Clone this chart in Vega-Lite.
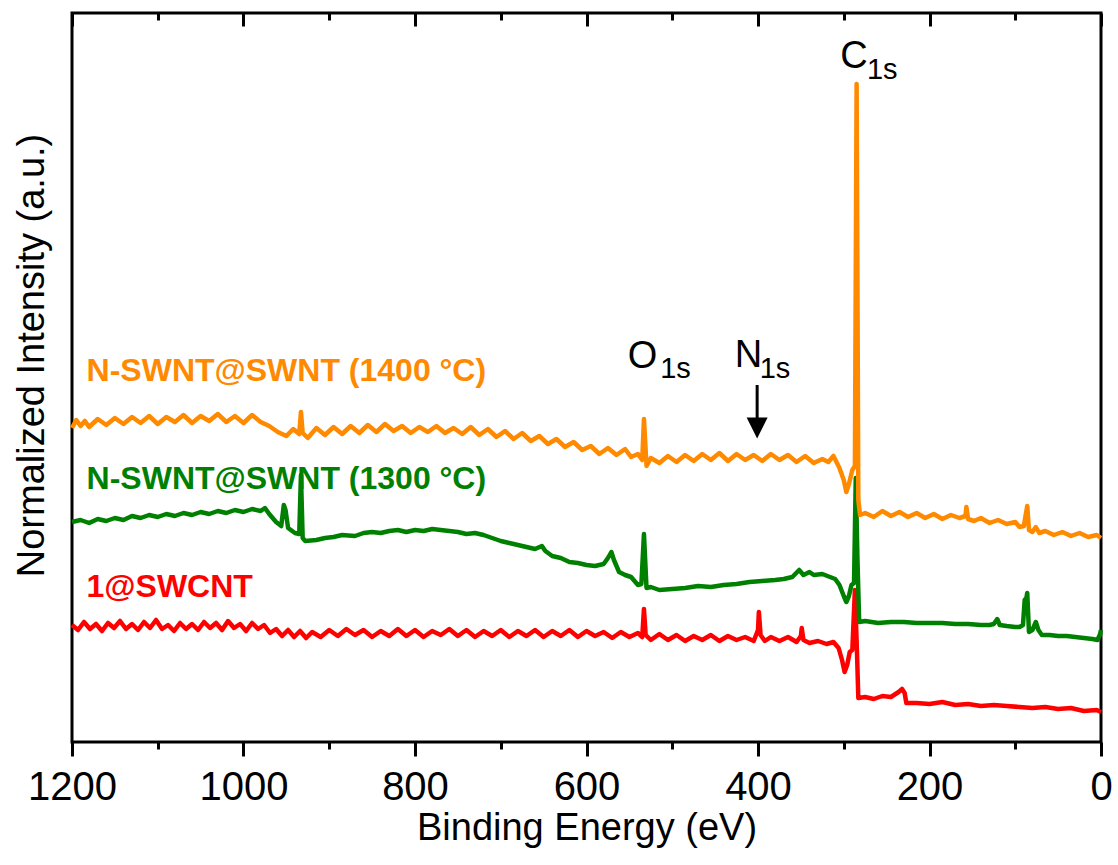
{
  "$schema": "https://vega.github.io/schema/vega-lite/v6.json",
  "width": 1029,
  "height": 729,
  "autosize": {"type": "none"},
  "padding": {"left": 72, "top": 13, "right": 17, "bottom": 123},
  "background": "white",
  "view": {"stroke": "black", "strokeWidth": 3},
  "config": {"font": "Liberation Sans"},
  "datasets": {
    "red": [
      {"series": "1@SWCNT", "energy": 1200, "intensity": 117},
      {"series": "1@SWCNT", "energy": 1193, "intensity": 112},
      {"series": "1@SWCNT", "energy": 1186, "intensity": 120},
      {"series": "1@SWCNT", "energy": 1179, "intensity": 113},
      {"series": "1@SWCNT", "energy": 1172, "intensity": 118},
      {"series": "1@SWCNT", "energy": 1165, "intensity": 111},
      {"series": "1@SWCNT", "energy": 1158, "intensity": 119},
      {"series": "1@SWCNT", "energy": 1151, "intensity": 114},
      {"series": "1@SWCNT", "energy": 1144, "intensity": 121},
      {"series": "1@SWCNT", "energy": 1137, "intensity": 113},
      {"series": "1@SWCNT", "energy": 1130, "intensity": 118},
      {"series": "1@SWCNT", "energy": 1123, "intensity": 112},
      {"series": "1@SWCNT", "energy": 1116, "intensity": 120},
      {"series": "1@SWCNT", "energy": 1109, "intensity": 114},
      {"series": "1@SWCNT", "energy": 1102, "intensity": 122},
      {"series": "1@SWCNT", "energy": 1095, "intensity": 113},
      {"series": "1@SWCNT", "energy": 1088, "intensity": 117},
      {"series": "1@SWCNT", "energy": 1081, "intensity": 111},
      {"series": "1@SWCNT", "energy": 1074, "intensity": 119},
      {"series": "1@SWCNT", "energy": 1067, "intensity": 113},
      {"series": "1@SWCNT", "energy": 1060, "intensity": 118},
      {"series": "1@SWCNT", "energy": 1053, "intensity": 112},
      {"series": "1@SWCNT", "energy": 1046, "intensity": 120},
      {"series": "1@SWCNT", "energy": 1039, "intensity": 114},
      {"series": "1@SWCNT", "energy": 1032, "intensity": 119},
      {"series": "1@SWCNT", "energy": 1025, "intensity": 112},
      {"series": "1@SWCNT", "energy": 1018, "intensity": 121},
      {"series": "1@SWCNT", "energy": 1011, "intensity": 114},
      {"series": "1@SWCNT", "energy": 1004, "intensity": 118},
      {"series": "1@SWCNT", "energy": 997, "intensity": 111},
      {"series": "1@SWCNT", "energy": 990, "intensity": 119},
      {"series": "1@SWCNT", "energy": 983, "intensity": 113},
      {"series": "1@SWCNT", "energy": 976, "intensity": 117},
      {"series": "1@SWCNT", "energy": 969, "intensity": 109},
      {"series": "1@SWCNT", "energy": 962, "intensity": 113},
      {"series": "1@SWCNT", "energy": 955, "intensity": 106},
      {"series": "1@SWCNT", "energy": 948, "intensity": 112},
      {"series": "1@SWCNT", "energy": 941, "intensity": 105},
      {"series": "1@SWCNT", "energy": 934, "intensity": 111},
      {"series": "1@SWCNT", "energy": 927, "intensity": 104},
      {"series": "1@SWCNT", "energy": 920, "intensity": 110},
      {"series": "1@SWCNT", "energy": 910, "intensity": 105},
      {"series": "1@SWCNT", "energy": 900, "intensity": 112},
      {"series": "1@SWCNT", "energy": 890, "intensity": 106},
      {"series": "1@SWCNT", "energy": 880, "intensity": 113},
      {"series": "1@SWCNT", "energy": 870, "intensity": 107},
      {"series": "1@SWCNT", "energy": 860, "intensity": 112},
      {"series": "1@SWCNT", "energy": 850, "intensity": 105},
      {"series": "1@SWCNT", "energy": 840, "intensity": 111},
      {"series": "1@SWCNT", "energy": 830, "intensity": 106},
      {"series": "1@SWCNT", "energy": 820, "intensity": 113},
      {"series": "1@SWCNT", "energy": 810, "intensity": 106},
      {"series": "1@SWCNT", "energy": 800, "intensity": 112},
      {"series": "1@SWCNT", "energy": 790, "intensity": 105},
      {"series": "1@SWCNT", "energy": 780, "intensity": 111},
      {"series": "1@SWCNT", "energy": 770, "intensity": 107},
      {"series": "1@SWCNT", "energy": 760, "intensity": 113},
      {"series": "1@SWCNT", "energy": 750, "intensity": 106},
      {"series": "1@SWCNT", "energy": 740, "intensity": 112},
      {"series": "1@SWCNT", "energy": 730, "intensity": 105},
      {"series": "1@SWCNT", "energy": 720, "intensity": 111},
      {"series": "1@SWCNT", "energy": 710, "intensity": 106},
      {"series": "1@SWCNT", "energy": 700, "intensity": 112},
      {"series": "1@SWCNT", "energy": 690, "intensity": 105},
      {"series": "1@SWCNT", "energy": 680, "intensity": 111},
      {"series": "1@SWCNT", "energy": 670, "intensity": 106},
      {"series": "1@SWCNT", "energy": 660, "intensity": 112},
      {"series": "1@SWCNT", "energy": 650, "intensity": 105},
      {"series": "1@SWCNT", "energy": 640, "intensity": 111},
      {"series": "1@SWCNT", "energy": 630, "intensity": 106},
      {"series": "1@SWCNT", "energy": 620, "intensity": 112},
      {"series": "1@SWCNT", "energy": 610, "intensity": 105},
      {"series": "1@SWCNT", "energy": 600, "intensity": 111},
      {"series": "1@SWCNT", "energy": 590, "intensity": 106},
      {"series": "1@SWCNT", "energy": 580, "intensity": 110},
      {"series": "1@SWCNT", "energy": 570, "intensity": 104},
      {"series": "1@SWCNT", "energy": 560, "intensity": 110},
      {"series": "1@SWCNT", "energy": 550, "intensity": 105},
      {"series": "1@SWCNT", "energy": 540, "intensity": 109},
      {"series": "1@SWCNT", "energy": 535, "intensity": 105},
      {"series": "1@SWCNT", "energy": 533, "intensity": 133},
      {"series": "1@SWCNT", "energy": 531, "intensity": 107},
      {"series": "1@SWCNT", "energy": 525, "intensity": 102},
      {"series": "1@SWCNT", "energy": 515, "intensity": 108},
      {"series": "1@SWCNT", "energy": 505, "intensity": 102},
      {"series": "1@SWCNT", "energy": 495, "intensity": 107},
      {"series": "1@SWCNT", "energy": 485, "intensity": 101},
      {"series": "1@SWCNT", "energy": 475, "intensity": 106},
      {"series": "1@SWCNT", "energy": 465, "intensity": 102},
      {"series": "1@SWCNT", "energy": 455, "intensity": 107},
      {"series": "1@SWCNT", "energy": 445, "intensity": 101},
      {"series": "1@SWCNT", "energy": 435, "intensity": 106},
      {"series": "1@SWCNT", "energy": 425, "intensity": 102},
      {"series": "1@SWCNT", "energy": 415, "intensity": 105},
      {"series": "1@SWCNT", "energy": 405, "intensity": 101},
      {"series": "1@SWCNT", "energy": 400, "intensity": 112},
      {"series": "1@SWCNT", "energy": 399, "intensity": 130},
      {"series": "1@SWCNT", "energy": 397, "intensity": 107},
      {"series": "1@SWCNT", "energy": 392, "intensity": 101},
      {"series": "1@SWCNT", "energy": 385, "intensity": 105},
      {"series": "1@SWCNT", "energy": 375, "intensity": 101},
      {"series": "1@SWCNT", "energy": 365, "intensity": 105},
      {"series": "1@SWCNT", "energy": 355, "intensity": 100},
      {"series": "1@SWCNT", "energy": 350, "intensity": 106},
      {"series": "1@SWCNT", "energy": 349, "intensity": 114},
      {"series": "1@SWCNT", "energy": 347, "intensity": 102},
      {"series": "1@SWCNT", "energy": 340, "intensity": 99},
      {"series": "1@SWCNT", "energy": 330, "intensity": 101},
      {"series": "1@SWCNT", "energy": 320, "intensity": 98},
      {"series": "1@SWCNT", "energy": 312, "intensity": 100},
      {"series": "1@SWCNT", "energy": 306, "intensity": 94},
      {"series": "1@SWCNT", "energy": 302, "intensity": 82},
      {"series": "1@SWCNT", "energy": 299, "intensity": 70},
      {"series": "1@SWCNT", "energy": 296, "intensity": 77},
      {"series": "1@SWCNT", "energy": 293, "intensity": 90},
      {"series": "1@SWCNT", "energy": 290, "intensity": 92},
      {"series": "1@SWCNT", "energy": 287, "intensity": 152},
      {"series": "1@SWCNT", "energy": 285, "intensity": 102},
      {"series": "1@SWCNT", "energy": 283, "intensity": 44},
      {"series": "1@SWCNT", "energy": 275, "intensity": 45},
      {"series": "1@SWCNT", "energy": 265, "intensity": 43},
      {"series": "1@SWCNT", "energy": 255, "intensity": 46},
      {"series": "1@SWCNT", "energy": 245, "intensity": 45},
      {"series": "1@SWCNT", "energy": 236, "intensity": 50},
      {"series": "1@SWCNT", "energy": 232, "intensity": 53},
      {"series": "1@SWCNT", "energy": 229, "intensity": 49},
      {"series": "1@SWCNT", "energy": 227, "intensity": 39},
      {"series": "1@SWCNT", "energy": 215, "intensity": 39},
      {"series": "1@SWCNT", "energy": 200, "intensity": 38},
      {"series": "1@SWCNT", "energy": 185, "intensity": 40},
      {"series": "1@SWCNT", "energy": 170, "intensity": 37},
      {"series": "1@SWCNT", "energy": 155, "intensity": 38},
      {"series": "1@SWCNT", "energy": 140, "intensity": 36},
      {"series": "1@SWCNT", "energy": 125, "intensity": 37},
      {"series": "1@SWCNT", "energy": 110, "intensity": 36},
      {"series": "1@SWCNT", "energy": 95, "intensity": 35},
      {"series": "1@SWCNT", "energy": 80, "intensity": 34},
      {"series": "1@SWCNT", "energy": 65, "intensity": 35},
      {"series": "1@SWCNT", "energy": 50, "intensity": 33},
      {"series": "1@SWCNT", "energy": 35, "intensity": 34},
      {"series": "1@SWCNT", "energy": 20, "intensity": 31},
      {"series": "1@SWCNT", "energy": 5, "intensity": 32},
      {"series": "1@SWCNT", "energy": 0, "intensity": 30}
    ],
    "green": [
      {"series": "N-SWNT@SWNT (1300 °C)", "energy": 1200, "intensity": 220},
      {"series": "N-SWNT@SWNT (1300 °C)", "energy": 1190, "intensity": 222},
      {"series": "N-SWNT@SWNT (1300 °C)", "energy": 1180, "intensity": 219},
      {"series": "N-SWNT@SWNT (1300 °C)", "energy": 1170, "intensity": 223},
      {"series": "N-SWNT@SWNT (1300 °C)", "energy": 1160, "intensity": 221},
      {"series": "N-SWNT@SWNT (1300 °C)", "energy": 1150, "intensity": 224},
      {"series": "N-SWNT@SWNT (1300 °C)", "energy": 1140, "intensity": 222},
      {"series": "N-SWNT@SWNT (1300 °C)", "energy": 1130, "intensity": 226},
      {"series": "N-SWNT@SWNT (1300 °C)", "energy": 1120, "intensity": 224},
      {"series": "N-SWNT@SWNT (1300 °C)", "energy": 1110, "intensity": 227},
      {"series": "N-SWNT@SWNT (1300 °C)", "energy": 1100, "intensity": 225},
      {"series": "N-SWNT@SWNT (1300 °C)", "energy": 1090, "intensity": 228},
      {"series": "N-SWNT@SWNT (1300 °C)", "energy": 1080, "intensity": 226},
      {"series": "N-SWNT@SWNT (1300 °C)", "energy": 1070, "intensity": 229},
      {"series": "N-SWNT@SWNT (1300 °C)", "energy": 1060, "intensity": 227},
      {"series": "N-SWNT@SWNT (1300 °C)", "energy": 1050, "intensity": 230},
      {"series": "N-SWNT@SWNT (1300 °C)", "energy": 1040, "intensity": 228},
      {"series": "N-SWNT@SWNT (1300 °C)", "energy": 1030, "intensity": 231},
      {"series": "N-SWNT@SWNT (1300 °C)", "energy": 1020, "intensity": 229},
      {"series": "N-SWNT@SWNT (1300 °C)", "energy": 1010, "intensity": 232},
      {"series": "N-SWNT@SWNT (1300 °C)", "energy": 1000, "intensity": 230},
      {"series": "N-SWNT@SWNT (1300 °C)", "energy": 990, "intensity": 233},
      {"series": "N-SWNT@SWNT (1300 °C)", "energy": 980, "intensity": 231},
      {"series": "N-SWNT@SWNT (1300 °C)", "energy": 975, "intensity": 234},
      {"series": "N-SWNT@SWNT (1300 °C)", "energy": 970, "intensity": 228},
      {"series": "N-SWNT@SWNT (1300 °C)", "energy": 962, "intensity": 220},
      {"series": "N-SWNT@SWNT (1300 °C)", "energy": 956, "intensity": 216},
      {"series": "N-SWNT@SWNT (1300 °C)", "energy": 953, "intensity": 237},
      {"series": "N-SWNT@SWNT (1300 °C)", "energy": 951, "intensity": 232},
      {"series": "N-SWNT@SWNT (1300 °C)", "energy": 948, "intensity": 214},
      {"series": "N-SWNT@SWNT (1300 °C)", "energy": 940, "intensity": 209},
      {"series": "N-SWNT@SWNT (1300 °C)", "energy": 935, "intensity": 208},
      {"series": "N-SWNT@SWNT (1300 °C)", "energy": 933, "intensity": 267},
      {"series": "N-SWNT@SWNT (1300 °C)", "energy": 931, "intensity": 204},
      {"series": "N-SWNT@SWNT (1300 °C)", "energy": 928, "intensity": 201},
      {"series": "N-SWNT@SWNT (1300 °C)", "energy": 915, "intensity": 202},
      {"series": "N-SWNT@SWNT (1300 °C)", "energy": 905, "intensity": 204},
      {"series": "N-SWNT@SWNT (1300 °C)", "energy": 895, "intensity": 205},
      {"series": "N-SWNT@SWNT (1300 °C)", "energy": 885, "intensity": 207},
      {"series": "N-SWNT@SWNT (1300 °C)", "energy": 870, "intensity": 206},
      {"series": "N-SWNT@SWNT (1300 °C)", "energy": 860, "intensity": 209},
      {"series": "N-SWNT@SWNT (1300 °C)", "energy": 850, "intensity": 210},
      {"series": "N-SWNT@SWNT (1300 °C)", "energy": 840, "intensity": 209},
      {"series": "N-SWNT@SWNT (1300 °C)", "energy": 830, "intensity": 211},
      {"series": "N-SWNT@SWNT (1300 °C)", "energy": 820, "intensity": 212},
      {"series": "N-SWNT@SWNT (1300 °C)", "energy": 810, "intensity": 210},
      {"series": "N-SWNT@SWNT (1300 °C)", "energy": 800, "intensity": 212},
      {"series": "N-SWNT@SWNT (1300 °C)", "energy": 790, "intensity": 211},
      {"series": "N-SWNT@SWNT (1300 °C)", "energy": 780, "intensity": 213},
      {"series": "N-SWNT@SWNT (1300 °C)", "energy": 770, "intensity": 212},
      {"series": "N-SWNT@SWNT (1300 °C)", "energy": 760, "intensity": 211},
      {"series": "N-SWNT@SWNT (1300 °C)", "energy": 750, "intensity": 210},
      {"series": "N-SWNT@SWNT (1300 °C)", "energy": 740, "intensity": 208},
      {"series": "N-SWNT@SWNT (1300 °C)", "energy": 730, "intensity": 209},
      {"series": "N-SWNT@SWNT (1300 °C)", "energy": 720, "intensity": 207},
      {"series": "N-SWNT@SWNT (1300 °C)", "energy": 710, "intensity": 204},
      {"series": "N-SWNT@SWNT (1300 °C)", "energy": 700, "intensity": 201},
      {"series": "N-SWNT@SWNT (1300 °C)", "energy": 690, "intensity": 199},
      {"series": "N-SWNT@SWNT (1300 °C)", "energy": 680, "intensity": 197},
      {"series": "N-SWNT@SWNT (1300 °C)", "energy": 670, "intensity": 195},
      {"series": "N-SWNT@SWNT (1300 °C)", "energy": 660, "intensity": 193},
      {"series": "N-SWNT@SWNT (1300 °C)", "energy": 652, "intensity": 196},
      {"series": "N-SWNT@SWNT (1300 °C)", "energy": 648, "intensity": 191},
      {"series": "N-SWNT@SWNT (1300 °C)", "energy": 640, "intensity": 186},
      {"series": "N-SWNT@SWNT (1300 °C)", "energy": 630, "intensity": 184},
      {"series": "N-SWNT@SWNT (1300 °C)", "energy": 620, "intensity": 180},
      {"series": "N-SWNT@SWNT (1300 °C)", "energy": 610, "intensity": 179},
      {"series": "N-SWNT@SWNT (1300 °C)", "energy": 600, "intensity": 177},
      {"series": "N-SWNT@SWNT (1300 °C)", "energy": 590, "intensity": 176},
      {"series": "N-SWNT@SWNT (1300 °C)", "energy": 580, "intensity": 178},
      {"series": "N-SWNT@SWNT (1300 °C)", "energy": 575, "intensity": 184},
      {"series": "N-SWNT@SWNT (1300 °C)", "energy": 571, "intensity": 190},
      {"series": "N-SWNT@SWNT (1300 °C)", "energy": 568, "intensity": 182},
      {"series": "N-SWNT@SWNT (1300 °C)", "energy": 562, "intensity": 170},
      {"series": "N-SWNT@SWNT (1300 °C)", "energy": 555, "intensity": 167},
      {"series": "N-SWNT@SWNT (1300 °C)", "energy": 548, "intensity": 165},
      {"series": "N-SWNT@SWNT (1300 °C)", "energy": 540, "intensity": 157},
      {"series": "N-SWNT@SWNT (1300 °C)", "energy": 536, "intensity": 158},
      {"series": "N-SWNT@SWNT (1300 °C)", "energy": 533, "intensity": 208},
      {"series": "N-SWNT@SWNT (1300 °C)", "energy": 530, "intensity": 154},
      {"series": "N-SWNT@SWNT (1300 °C)", "energy": 525, "intensity": 155},
      {"series": "N-SWNT@SWNT (1300 °C)", "energy": 515, "intensity": 152},
      {"series": "N-SWNT@SWNT (1300 °C)", "energy": 500, "intensity": 153},
      {"series": "N-SWNT@SWNT (1300 °C)", "energy": 485, "intensity": 154},
      {"series": "N-SWNT@SWNT (1300 °C)", "energy": 470, "intensity": 156},
      {"series": "N-SWNT@SWNT (1300 °C)", "energy": 455, "intensity": 155},
      {"series": "N-SWNT@SWNT (1300 °C)", "energy": 440, "intensity": 157},
      {"series": "N-SWNT@SWNT (1300 °C)", "energy": 425, "intensity": 158},
      {"series": "N-SWNT@SWNT (1300 °C)", "energy": 410, "intensity": 160},
      {"series": "N-SWNT@SWNT (1300 °C)", "energy": 395, "intensity": 161},
      {"series": "N-SWNT@SWNT (1300 °C)", "energy": 380, "intensity": 162},
      {"series": "N-SWNT@SWNT (1300 °C)", "energy": 370, "intensity": 163},
      {"series": "N-SWNT@SWNT (1300 °C)", "energy": 360, "intensity": 165},
      {"series": "N-SWNT@SWNT (1300 °C)", "energy": 352, "intensity": 172},
      {"series": "N-SWNT@SWNT (1300 °C)", "energy": 347, "intensity": 167},
      {"series": "N-SWNT@SWNT (1300 °C)", "energy": 340, "intensity": 170},
      {"series": "N-SWNT@SWNT (1300 °C)", "energy": 335, "intensity": 167},
      {"series": "N-SWNT@SWNT (1300 °C)", "energy": 325, "intensity": 168},
      {"series": "N-SWNT@SWNT (1300 °C)", "energy": 316, "intensity": 165},
      {"series": "N-SWNT@SWNT (1300 °C)", "energy": 310, "intensity": 163},
      {"series": "N-SWNT@SWNT (1300 °C)", "energy": 305, "intensity": 157},
      {"series": "N-SWNT@SWNT (1300 °C)", "energy": 300, "intensity": 146},
      {"series": "N-SWNT@SWNT (1300 °C)", "energy": 297, "intensity": 140},
      {"series": "N-SWNT@SWNT (1300 °C)", "energy": 294, "intensity": 146},
      {"series": "N-SWNT@SWNT (1300 °C)", "energy": 291, "intensity": 157},
      {"series": "N-SWNT@SWNT (1300 °C)", "energy": 288, "intensity": 159},
      {"series": "N-SWNT@SWNT (1300 °C)", "energy": 286, "intensity": 264},
      {"series": "N-SWNT@SWNT (1300 °C)", "energy": 284, "intensity": 182},
      {"series": "N-SWNT@SWNT (1300 °C)", "energy": 282, "intensity": 120},
      {"series": "N-SWNT@SWNT (1300 °C)", "energy": 275, "intensity": 121},
      {"series": "N-SWNT@SWNT (1300 °C)", "energy": 260, "intensity": 119},
      {"series": "N-SWNT@SWNT (1300 °C)", "energy": 245, "intensity": 120},
      {"series": "N-SWNT@SWNT (1300 °C)", "energy": 230, "intensity": 120},
      {"series": "N-SWNT@SWNT (1300 °C)", "energy": 215, "intensity": 119},
      {"series": "N-SWNT@SWNT (1300 °C)", "energy": 200, "intensity": 119},
      {"series": "N-SWNT@SWNT (1300 °C)", "energy": 185, "intensity": 119},
      {"series": "N-SWNT@SWNT (1300 °C)", "energy": 170, "intensity": 118},
      {"series": "N-SWNT@SWNT (1300 °C)", "energy": 155, "intensity": 118},
      {"series": "N-SWNT@SWNT (1300 °C)", "energy": 140, "intensity": 117},
      {"series": "N-SWNT@SWNT (1300 °C)", "energy": 130, "intensity": 117},
      {"series": "N-SWNT@SWNT (1300 °C)", "energy": 125, "intensity": 118},
      {"series": "N-SWNT@SWNT (1300 °C)", "energy": 121, "intensity": 123},
      {"series": "N-SWNT@SWNT (1300 °C)", "energy": 118, "intensity": 117},
      {"series": "N-SWNT@SWNT (1300 °C)", "energy": 110, "intensity": 116},
      {"series": "N-SWNT@SWNT (1300 °C)", "energy": 100, "intensity": 115},
      {"series": "N-SWNT@SWNT (1300 °C)", "energy": 95, "intensity": 115},
      {"series": "N-SWNT@SWNT (1300 °C)", "energy": 91, "intensity": 117},
      {"series": "N-SWNT@SWNT (1300 °C)", "energy": 89, "intensity": 142},
      {"series": "N-SWNT@SWNT (1300 °C)", "energy": 87, "intensity": 144},
      {"series": "N-SWNT@SWNT (1300 °C)", "energy": 86, "intensity": 149},
      {"series": "N-SWNT@SWNT (1300 °C)", "energy": 84, "intensity": 110},
      {"series": "N-SWNT@SWNT (1300 °C)", "energy": 80, "intensity": 112},
      {"series": "N-SWNT@SWNT (1300 °C)", "energy": 76, "intensity": 120},
      {"series": "N-SWNT@SWNT (1300 °C)", "energy": 73, "intensity": 112},
      {"series": "N-SWNT@SWNT (1300 °C)", "energy": 69, "intensity": 107},
      {"series": "N-SWNT@SWNT (1300 °C)", "energy": 60, "intensity": 107},
      {"series": "N-SWNT@SWNT (1300 °C)", "energy": 50, "intensity": 106},
      {"series": "N-SWNT@SWNT (1300 °C)", "energy": 40, "intensity": 106},
      {"series": "N-SWNT@SWNT (1300 °C)", "energy": 30, "intensity": 105},
      {"series": "N-SWNT@SWNT (1300 °C)", "energy": 20, "intensity": 104},
      {"series": "N-SWNT@SWNT (1300 °C)", "energy": 10, "intensity": 103},
      {"series": "N-SWNT@SWNT (1300 °C)", "energy": 4, "intensity": 102},
      {"series": "N-SWNT@SWNT (1300 °C)", "energy": 1, "intensity": 108},
      {"series": "N-SWNT@SWNT (1300 °C)", "energy": 0, "intensity": 112}
    ],
    "orange": [
      {"series": "N-SWNT@SWNT (1400 °C)", "energy": 1200, "intensity": 314},
      {"series": "N-SWNT@SWNT (1400 °C)", "energy": 1195, "intensity": 322},
      {"series": "N-SWNT@SWNT (1400 °C)", "energy": 1190, "intensity": 316},
      {"series": "N-SWNT@SWNT (1400 °C)", "energy": 1185, "intensity": 321},
      {"series": "N-SWNT@SWNT (1400 °C)", "energy": 1180, "intensity": 315},
      {"series": "N-SWNT@SWNT (1400 °C)", "energy": 1170, "intensity": 323},
      {"series": "N-SWNT@SWNT (1400 °C)", "energy": 1160, "intensity": 317},
      {"series": "N-SWNT@SWNT (1400 °C)", "energy": 1150, "intensity": 324},
      {"series": "N-SWNT@SWNT (1400 °C)", "energy": 1140, "intensity": 318},
      {"series": "N-SWNT@SWNT (1400 °C)", "energy": 1130, "intensity": 325},
      {"series": "N-SWNT@SWNT (1400 °C)", "energy": 1120, "intensity": 319},
      {"series": "N-SWNT@SWNT (1400 °C)", "energy": 1110, "intensity": 326},
      {"series": "N-SWNT@SWNT (1400 °C)", "energy": 1100, "intensity": 318},
      {"series": "N-SWNT@SWNT (1400 °C)", "energy": 1090, "intensity": 325},
      {"series": "N-SWNT@SWNT (1400 °C)", "energy": 1080, "intensity": 320},
      {"series": "N-SWNT@SWNT (1400 °C)", "energy": 1070, "intensity": 327},
      {"series": "N-SWNT@SWNT (1400 °C)", "energy": 1060, "intensity": 319},
      {"series": "N-SWNT@SWNT (1400 °C)", "energy": 1050, "intensity": 326},
      {"series": "N-SWNT@SWNT (1400 °C)", "energy": 1040, "intensity": 321},
      {"series": "N-SWNT@SWNT (1400 °C)", "energy": 1030, "intensity": 328},
      {"series": "N-SWNT@SWNT (1400 °C)", "energy": 1020, "intensity": 320},
      {"series": "N-SWNT@SWNT (1400 °C)", "energy": 1010, "intensity": 326},
      {"series": "N-SWNT@SWNT (1400 °C)", "energy": 1000, "intensity": 319},
      {"series": "N-SWNT@SWNT (1400 °C)", "energy": 990, "intensity": 327},
      {"series": "N-SWNT@SWNT (1400 °C)", "energy": 980, "intensity": 320},
      {"series": "N-SWNT@SWNT (1400 °C)", "energy": 970, "intensity": 316},
      {"series": "N-SWNT@SWNT (1400 °C)", "energy": 960, "intensity": 310},
      {"series": "N-SWNT@SWNT (1400 °C)", "energy": 950, "intensity": 306},
      {"series": "N-SWNT@SWNT (1400 °C)", "energy": 942, "intensity": 313},
      {"series": "N-SWNT@SWNT (1400 °C)", "energy": 935, "intensity": 308},
      {"series": "N-SWNT@SWNT (1400 °C)", "energy": 933, "intensity": 330},
      {"series": "N-SWNT@SWNT (1400 °C)", "energy": 931, "intensity": 309},
      {"series": "N-SWNT@SWNT (1400 °C)", "energy": 925, "intensity": 304},
      {"series": "N-SWNT@SWNT (1400 °C)", "energy": 915, "intensity": 314},
      {"series": "N-SWNT@SWNT (1400 °C)", "energy": 905, "intensity": 307},
      {"series": "N-SWNT@SWNT (1400 °C)", "energy": 895, "intensity": 315},
      {"series": "N-SWNT@SWNT (1400 °C)", "energy": 885, "intensity": 308},
      {"series": "N-SWNT@SWNT (1400 °C)", "energy": 875, "intensity": 316},
      {"series": "N-SWNT@SWNT (1400 °C)", "energy": 865, "intensity": 309},
      {"series": "N-SWNT@SWNT (1400 °C)", "energy": 855, "intensity": 317},
      {"series": "N-SWNT@SWNT (1400 °C)", "energy": 845, "intensity": 310},
      {"series": "N-SWNT@SWNT (1400 °C)", "energy": 835, "intensity": 318},
      {"series": "N-SWNT@SWNT (1400 °C)", "energy": 825, "intensity": 311},
      {"series": "N-SWNT@SWNT (1400 °C)", "energy": 815, "intensity": 316},
      {"series": "N-SWNT@SWNT (1400 °C)", "energy": 805, "intensity": 309},
      {"series": "N-SWNT@SWNT (1400 °C)", "energy": 795, "intensity": 315},
      {"series": "N-SWNT@SWNT (1400 °C)", "energy": 785, "intensity": 310},
      {"series": "N-SWNT@SWNT (1400 °C)", "energy": 775, "intensity": 316},
      {"series": "N-SWNT@SWNT (1400 °C)", "energy": 765, "intensity": 309},
      {"series": "N-SWNT@SWNT (1400 °C)", "energy": 755, "intensity": 314},
      {"series": "N-SWNT@SWNT (1400 °C)", "energy": 745, "intensity": 308},
      {"series": "N-SWNT@SWNT (1400 °C)", "energy": 735, "intensity": 315},
      {"series": "N-SWNT@SWNT (1400 °C)", "energy": 725, "intensity": 307},
      {"series": "N-SWNT@SWNT (1400 °C)", "energy": 715, "intensity": 313},
      {"series": "N-SWNT@SWNT (1400 °C)", "energy": 705, "intensity": 305},
      {"series": "N-SWNT@SWNT (1400 °C)", "energy": 695, "intensity": 311},
      {"series": "N-SWNT@SWNT (1400 °C)", "energy": 685, "intensity": 303},
      {"series": "N-SWNT@SWNT (1400 °C)", "energy": 675, "intensity": 309},
      {"series": "N-SWNT@SWNT (1400 °C)", "energy": 665, "intensity": 301},
      {"series": "N-SWNT@SWNT (1400 °C)", "energy": 655, "intensity": 306},
      {"series": "N-SWNT@SWNT (1400 °C)", "energy": 645, "intensity": 298},
      {"series": "N-SWNT@SWNT (1400 °C)", "energy": 635, "intensity": 303},
      {"series": "N-SWNT@SWNT (1400 °C)", "energy": 625, "intensity": 295},
      {"series": "N-SWNT@SWNT (1400 °C)", "energy": 615, "intensity": 300},
      {"series": "N-SWNT@SWNT (1400 °C)", "energy": 605, "intensity": 292},
      {"series": "N-SWNT@SWNT (1400 °C)", "energy": 595, "intensity": 296},
      {"series": "N-SWNT@SWNT (1400 °C)", "energy": 585, "intensity": 288},
      {"series": "N-SWNT@SWNT (1400 °C)", "energy": 575, "intensity": 294},
      {"series": "N-SWNT@SWNT (1400 °C)", "energy": 565, "intensity": 287},
      {"series": "N-SWNT@SWNT (1400 °C)", "energy": 555, "intensity": 293},
      {"series": "N-SWNT@SWNT (1400 °C)", "energy": 548, "intensity": 285},
      {"series": "N-SWNT@SWNT (1400 °C)", "energy": 540, "intensity": 288},
      {"series": "N-SWNT@SWNT (1400 °C)", "energy": 535, "intensity": 282},
      {"series": "N-SWNT@SWNT (1400 °C)", "energy": 533, "intensity": 323},
      {"series": "N-SWNT@SWNT (1400 °C)", "energy": 530, "intensity": 276},
      {"series": "N-SWNT@SWNT (1400 °C)", "energy": 525, "intensity": 284},
      {"series": "N-SWNT@SWNT (1400 °C)", "energy": 515, "intensity": 279},
      {"series": "N-SWNT@SWNT (1400 °C)", "energy": 505, "intensity": 286},
      {"series": "N-SWNT@SWNT (1400 °C)", "energy": 495, "intensity": 280},
      {"series": "N-SWNT@SWNT (1400 °C)", "energy": 485, "intensity": 287},
      {"series": "N-SWNT@SWNT (1400 °C)", "energy": 475, "intensity": 281},
      {"series": "N-SWNT@SWNT (1400 °C)", "energy": 465, "intensity": 288},
      {"series": "N-SWNT@SWNT (1400 °C)", "energy": 455, "intensity": 282},
      {"series": "N-SWNT@SWNT (1400 °C)", "energy": 445, "intensity": 289},
      {"series": "N-SWNT@SWNT (1400 °C)", "energy": 435, "intensity": 281},
      {"series": "N-SWNT@SWNT (1400 °C)", "energy": 425, "intensity": 288},
      {"series": "N-SWNT@SWNT (1400 °C)", "energy": 415, "intensity": 282},
      {"series": "N-SWNT@SWNT (1400 °C)", "energy": 405, "intensity": 287},
      {"series": "N-SWNT@SWNT (1400 °C)", "energy": 395, "intensity": 281},
      {"series": "N-SWNT@SWNT (1400 °C)", "energy": 385, "intensity": 288},
      {"series": "N-SWNT@SWNT (1400 °C)", "energy": 375, "intensity": 282},
      {"series": "N-SWNT@SWNT (1400 °C)", "energy": 365, "intensity": 287},
      {"series": "N-SWNT@SWNT (1400 °C)", "energy": 355, "intensity": 280},
      {"series": "N-SWNT@SWNT (1400 °C)", "energy": 345, "intensity": 286},
      {"series": "N-SWNT@SWNT (1400 °C)", "energy": 335, "intensity": 279},
      {"series": "N-SWNT@SWNT (1400 °C)", "energy": 325, "intensity": 283},
      {"series": "N-SWNT@SWNT (1400 °C)", "energy": 318, "intensity": 280},
      {"series": "N-SWNT@SWNT (1400 °C)", "energy": 312, "intensity": 286},
      {"series": "N-SWNT@SWNT (1400 °C)", "energy": 305, "intensity": 274},
      {"series": "N-SWNT@SWNT (1400 °C)", "energy": 300, "intensity": 262},
      {"series": "N-SWNT@SWNT (1400 °C)", "energy": 297, "intensity": 250},
      {"series": "N-SWNT@SWNT (1400 °C)", "energy": 294, "intensity": 258},
      {"series": "N-SWNT@SWNT (1400 °C)", "energy": 290, "intensity": 272},
      {"series": "N-SWNT@SWNT (1400 °C)", "energy": 287, "intensity": 276},
      {"series": "N-SWNT@SWNT (1400 °C)", "energy": 285, "intensity": 658},
      {"series": "N-SWNT@SWNT (1400 °C)", "energy": 283, "intensity": 242},
      {"series": "N-SWNT@SWNT (1400 °C)", "energy": 281, "intensity": 227},
      {"series": "N-SWNT@SWNT (1400 °C)", "energy": 275, "intensity": 229},
      {"series": "N-SWNT@SWNT (1400 °C)", "energy": 265, "intensity": 225},
      {"series": "N-SWNT@SWNT (1400 °C)", "energy": 255, "intensity": 231},
      {"series": "N-SWNT@SWNT (1400 °C)", "energy": 245, "intensity": 226},
      {"series": "N-SWNT@SWNT (1400 °C)", "energy": 235, "intensity": 230},
      {"series": "N-SWNT@SWNT (1400 °C)", "energy": 225, "intensity": 225},
      {"series": "N-SWNT@SWNT (1400 °C)", "energy": 215, "intensity": 229},
      {"series": "N-SWNT@SWNT (1400 °C)", "energy": 205, "intensity": 224},
      {"series": "N-SWNT@SWNT (1400 °C)", "energy": 195, "intensity": 228},
      {"series": "N-SWNT@SWNT (1400 °C)", "energy": 185, "intensity": 223},
      {"series": "N-SWNT@SWNT (1400 °C)", "energy": 175, "intensity": 227},
      {"series": "N-SWNT@SWNT (1400 °C)", "energy": 165, "intensity": 224},
      {"series": "N-SWNT@SWNT (1400 °C)", "energy": 158, "intensity": 226},
      {"series": "N-SWNT@SWNT (1400 °C)", "energy": 157, "intensity": 235},
      {"series": "N-SWNT@SWNT (1400 °C)", "energy": 155, "intensity": 223},
      {"series": "N-SWNT@SWNT (1400 °C)", "energy": 148, "intensity": 221},
      {"series": "N-SWNT@SWNT (1400 °C)", "energy": 140, "intensity": 224},
      {"series": "N-SWNT@SWNT (1400 °C)", "energy": 130, "intensity": 219},
      {"series": "N-SWNT@SWNT (1400 °C)", "energy": 120, "intensity": 222},
      {"series": "N-SWNT@SWNT (1400 °C)", "energy": 110, "intensity": 218},
      {"series": "N-SWNT@SWNT (1400 °C)", "energy": 100, "intensity": 220},
      {"series": "N-SWNT@SWNT (1400 °C)", "energy": 95, "intensity": 215},
      {"series": "N-SWNT@SWNT (1400 °C)", "energy": 90, "intensity": 216},
      {"series": "N-SWNT@SWNT (1400 °C)", "energy": 86, "intensity": 236},
      {"series": "N-SWNT@SWNT (1400 °C)", "energy": 84, "intensity": 212},
      {"series": "N-SWNT@SWNT (1400 °C)", "energy": 80, "intensity": 210},
      {"series": "N-SWNT@SWNT (1400 °C)", "energy": 76, "intensity": 215},
      {"series": "N-SWNT@SWNT (1400 °C)", "energy": 72, "intensity": 209},
      {"series": "N-SWNT@SWNT (1400 °C)", "energy": 65, "intensity": 211},
      {"series": "N-SWNT@SWNT (1400 °C)", "energy": 55, "intensity": 207},
      {"series": "N-SWNT@SWNT (1400 °C)", "energy": 45, "intensity": 210},
      {"series": "N-SWNT@SWNT (1400 °C)", "energy": 35, "intensity": 206},
      {"series": "N-SWNT@SWNT (1400 °C)", "energy": 25, "intensity": 209},
      {"series": "N-SWNT@SWNT (1400 °C)", "energy": 15, "intensity": 205},
      {"series": "N-SWNT@SWNT (1400 °C)", "energy": 5, "intensity": 207},
      {"series": "N-SWNT@SWNT (1400 °C)", "energy": 0, "intensity": 204}
    ],
    "labels": [
      {"series": "N-SWNT@SWNT (1400 °C)", "energy": 1183, "intensity": 361},
      {"series": "N-SWNT@SWNT (1300 °C)", "energy": 1183, "intensity": 253},
      {"series": "1@SWCNT", "energy": 1183, "intensity": 145}
    ],
    "notes": [
      {"text": "C", "kind": "main", "energy": 304, "intensity": 674},
      {"text": "1s", "kind": "sub", "energy": 273, "intensity": 663},
      {"text": "O", "kind": "main", "energy": 552, "intensity": 374},
      {"text": "1s", "kind": "sub", "energy": 514, "intensity": 364},
      {"text": "N", "kind": "main", "energy": 427, "intensity": 375},
      {"text": "1s", "kind": "sub", "energy": 398, "intensity": 364}
    ],
    "arrow": [
      {"energy": 401, "top": 357, "bottom": 322, "head": 314}
    ]
  },
  "resolve": {"axis": {"x": "independent", "y": "independent"}},
  "layer": [
    {
      "data": {"name": "red"},
      "mark": {"type": "line", "strokeWidth": 4.5, "strokeJoin": "round"},
      "encoding": {
        "x": {
          "field": "energy", "type": "quantitative",
          "scale": {"domain": [0, 1200], "reverse": true, "nice": false, "zero": false},
          "axis": {
            "orient": "bottom",
            "values": [0, 100, 200, 300, 400, 500, 600, 700, 800, 900, 1000, 1100, 1200],
            "format": "d",
            "labelExpr": "datum.value % 200 === 0 ? datum.label : ''",
            "tickSize": {"condition": {"test": "datum.value % 200 === 0", "value": 14}, "value": 7},
            "tickWidth": 3, "tickColor": "black",
            "labelColor": "black", "labelFontSize": 40, "labelFont": "Liberation Sans",
            "labelPadding": 11, "labelFlush": false, "labelOverlap": false,
            "title": "Binding Energy (eV)", "titleFont": "Liberation Sans",
            "titleFontSize": 38, "titleFontWeight": "normal", "titleColor": "black",
            "titlePadding": 2,
            "domain": false, "grid": false
          }
        },
        "y": {
          "field": "intensity", "type": "quantitative",
          "scale": {"domain": [0, 729], "nice": false, "zero": false},
          "axis": {
            "orient": "left",
            "title": "Normalized Intensity (a.u.)", "labels": false, "ticks": false,
            "domain": false, "grid": false, "titleFont": "Liberation Sans",
            "titleFontSize": 38, "titleFontWeight": "normal", "titleColor": "black",
            "titlePadding": 21, "titleY": 342
          }
        },
        "color": {
          "field": "series", "type": "nominal",
          "scale": {"domain": ["1@SWCNT", "N-SWNT@SWNT (1300 °C)", "N-SWNT@SWNT (1400 °C)"], "range": ["#ff0000", "#008000", "#ff8a00"]},
          "legend": null
        }
      }
    },
    {
      "data": {"name": "green"},
      "mark": {"type": "line", "strokeWidth": 4.5, "strokeJoin": "round"},
      "encoding": {
        "x": {"field": "energy", "type": "quantitative", "axis": null},
        "y": {"field": "intensity", "type": "quantitative", "axis": null},
        "color": {"field": "series", "type": "nominal", "legend": null}
      }
    },
    {
      "data": {"name": "orange"},
      "mark": {"type": "line", "strokeWidth": 4.5, "strokeJoin": "round"},
      "encoding": {
        "x": {
          "field": "energy", "type": "quantitative",
          "axis": {
            "orient": "top",
            "values": [0, 100, 200, 300, 400, 500, 600, 700, 800, 900, 1000, 1100, 1200],
            "labels": false, "title": null, "domain": false, "grid": false,
            "tickSize": {"condition": {"test": "datum.value % 200 === 0", "value": -13}, "value": -7},
            "tickWidth": 3, "tickColor": "black"
          }
        },
        "y": {"field": "intensity", "type": "quantitative", "axis": null},
        "color": {"field": "series", "type": "nominal", "legend": null}
      }
    },
    {
      "data": {"name": "labels"},
      "mark": {"type": "text", "align": "left", "baseline": "alphabetic", "font": "Liberation Sans", "fontSize": 32, "fontWeight": "bold"},
      "encoding": {
        "x": {"field": "energy", "type": "quantitative", "axis": null},
        "y": {"field": "intensity", "type": "quantitative", "axis": null},
        "text": {"field": "series"},
        "color": {"field": "series", "type": "nominal", "legend": null}
      }
    },
    {
      "data": {"name": "notes"},
      "mark": {"type": "text", "align": "left", "baseline": "alphabetic", "font": "Liberation Sans", "color": "black"},
      "encoding": {
        "x": {"field": "energy", "type": "quantitative", "axis": null},
        "y": {"field": "intensity", "type": "quantitative", "axis": null},
        "text": {"field": "text"},
        "size": {"field": "kind", "type": "ordinal", "scale": {"domain": ["main", "sub"], "range": [38, 29]}, "legend": null}
      }
    },
    {
      "data": {"name": "arrow"},
      "mark": {"type": "rule", "strokeWidth": 3, "color": "black"},
      "encoding": {
        "x": {"field": "energy", "type": "quantitative", "axis": null},
        "y": {"field": "top", "type": "quantitative", "axis": null},
        "y2": {"field": "bottom"}
      }
    },
    {
      "data": {"name": "arrow"},
      "mark": {"type": "point", "shape": "M-1,-1L1,-1L0,1Z", "filled": true, "color": "black", "opacity": 1, "size": 440},
      "encoding": {
        "x": {"field": "energy", "type": "quantitative", "axis": null},
        "y": {"field": "head", "type": "quantitative", "axis": null}
      }
    }
  ]
}
